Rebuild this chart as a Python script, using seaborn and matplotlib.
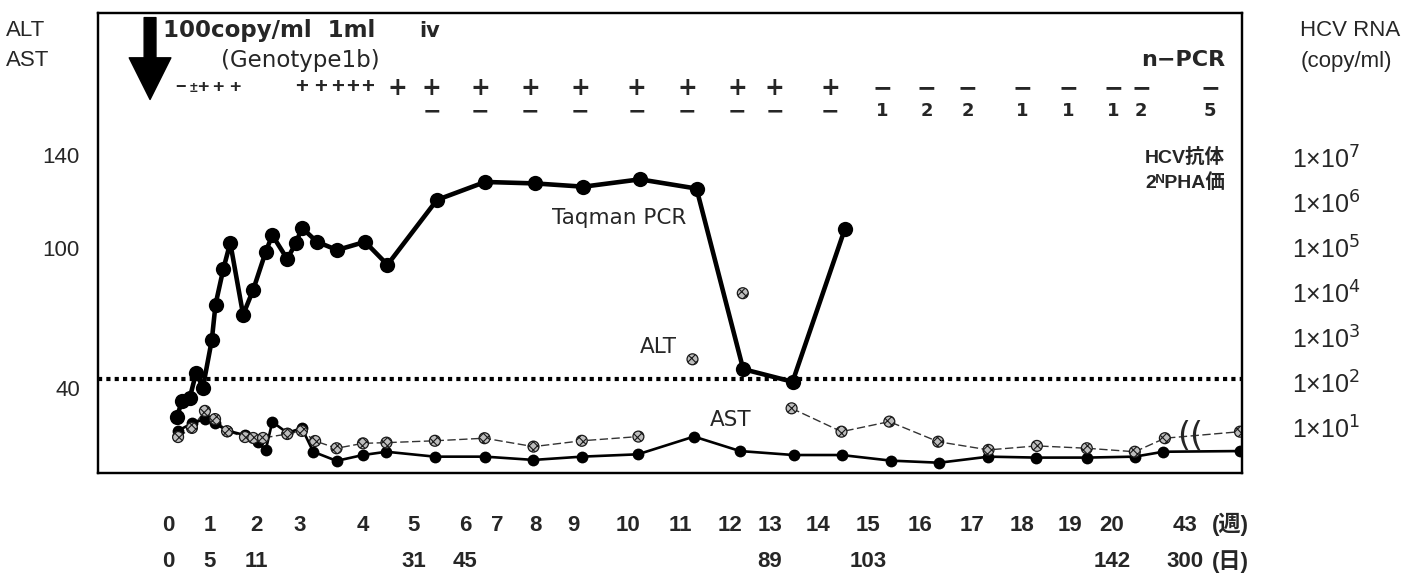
import numpy as np
import pandas as pd
import matplotlib
matplotlib.use("Agg")
import matplotlib.pyplot as plt
from matplotlib.transforms import ScaledTranslation, blended_transform_factory
import seaborn as sns

# ---------------- time axis (weeks after inoculation) ----------------
week_ticks = [0, 1, 2, 3, 4, 5, 6, 7, 8, 9, 10, 11, 12, 13, 14, 15, 16, 17, 18, 19, 20, 43]
week_labels = [str(w) for w in week_ticks]
# relative spacing of the hand-drawn (non-uniform) time axis
week_axis_spacing = [168, 210, 256, 300, 363, 414, 465, 497, 535, 573, 628, 680, 730,
                     770, 818, 868, 920, 972, 1022, 1070, 1112, 1240]
day_labels = ["0", "5", "11", "31", "45", "89", "103", "142", "300"]
day_label_weeks = [0, 1, 2, 5, 6, 13, 15, 20, 43]

# ---------------- HCV RNA, Taqman PCR (copy/ml) ----------------
taqman_weeks = [0.21, 0.33, 0.52, 0.67, 0.83, 1.04, 1.12, 1.29, 1.44, 1.72, 1.94, 2.22,
                2.37, 2.71, 2.91, 3.03, 3.27, 3.59, 4.04, 4.48, 5.45, 6.63, 8.0, 9.19,
                10.23, 11.33, 12.33, 13.47, 14.54]
taqman_copies = [17, 39, 47, 166, 78, 890, 5400, 33000, 126000, 3200, 11500, 79000,
                 186000, 55000, 126000, 270000, 132000, 87000, 132000, 41000, 1.12e6,
                 2.8e6, 2.6e6, 2.2e6, 3.2e6, 2.0e6, 200, 105, 2.6e5]

# ---------------- ALT (IU/l) ----------------
alt_weeks = [0.24, 0.57, 0.88, 1.11, 1.37, 1.76, 1.94, 2.16, 2.71, 3.03, 3.24, 3.58,
             4.0, 4.46, 5.41, 6.61, 7.96, 9.16, 10.2, 11.25, 12.32, 13.45, 14.47, 15.41,
             16.35, 17.33, 18.31, 19.4, 24.1, 29.5, 43]
alt_values = [19.2, 23.1, 30.4, 26.9, 21.7, 19.2, 18.8, 18.8, 20.5, 21.8, 17.5, 14.4,
              16.5, 16.8, 17.6, 18.7, 15.1, 17.6, 19.4, 52.5, 80.8, 31.5, 21.5, 25.8,
              17.2, 13.7, 15.4, 14.4, 12.9, 18.7, 21.5]
alt_segment = [0] * 19 + [1] + [2] + [3] * 10

# ---------------- AST (IU/l) ----------------
ast_weeks = [0.24, 0.57, 0.88, 1.11, 1.37, 1.76, 2.05, 2.22, 2.37, 2.71, 3.03, 3.21,
             3.58, 4.0, 4.46, 5.41, 6.63, 7.96, 9.16, 10.19, 11.28, 12.25, 13.49, 14.47,
             15.44, 16.37, 17.33, 18.30, 19.40, 24.1, 29.2, 43]
ast_values = [22, 25, 27, 25, 22, 20, 17, 13.5, 25.7, 21, 23, 12.9, 9.0, 11.5, 12.9,
              10.8, 10.8, 9.4, 10.8, 11.8, 19.4, 13.2, 11.5, 11.5, 9.1, 8.2, 10.8, 10.4,
              10.4, 10.8, 12.9, 13.2]

# ---------------- n-PCR and HCV antibody (2^N PHA) ----------------
npcr_weeks = [0.29, 0.6, 0.83, 1.17, 1.54, 3.03, 3.32, 3.59, 3.84, 4.08, 4.67, 5.35,
              6.47, 7.87, 9.13, 10.17, 11.14, 12.18, 13.10, 14.24, 15.27, 16.13, 16.92,
              18.0, 18.96, 20.18, 25.2, 37.6]
npcr_result = ["−", "±", "+", "+", "+", "+", "+", "+", "+", "+", "+", "+", "+", "+",
               "+", "+", "+", "+", "+", "+", "−", "−", "−", "−", "−", "−", "−", "−"]
antibody_weeks = [5.35, 6.47, 7.87, 9.13, 10.17, 11.14, 12.18, 13.10, 14.24, 15.27,
                  16.13, 16.92, 18.0, 18.96, 20.18, 25.2, 37.6]
antibody_result = ["−"] * 9 + ["1", "2", "2", "1", "1", "1", "2", "5"]

rna_ticks = [1e1, 1e2, 1e3, 1e4, 1e5, 1e6, 1e7]
enzyme_ticks = [40, 100, 140]
limit_line_copies = 120

# ---------------- style ----------------
sns.set_style("white")
plt.rcParams["font.family"] = ["Liberation Sans", "Noto Sans CJK JP", "DejaVu Sans"]
plt.rcParams["mathtext.fontset"] = "dejavusans"
plt.rcParams["axes.linewidth"] = 1.6
plt.rcParams["hatch.linewidth"] = 0.8
WIDE = ["DejaVu Sans", "Noto Sans CJK JP"]

kw = np.array(week_ticks, float)
kp = np.array(week_axis_spacing, float)


def fwd(w):
    w = np.asarray(w, float)
    out = np.interp(w, kw, kp)
    out = np.where(w < kw[0], kp[0] + (w - kw[0]) * (kp[1] - kp[0]) / (kw[1] - kw[0]), out)
    out = np.where(w > kw[-1], kp[-1] + (w - kw[-1]) * (kp[-1] - kp[-2]) / (kw[-1] - kw[-2]), out)
    return out


def inv(p):
    p = np.asarray(p, float)
    out = np.interp(p, kp, kw)
    out = np.where(p < kp[0], kw[0] + (p - kp[0]) * (kw[1] - kw[0]) / (kp[1] - kp[0]), out)
    out = np.where(p > kp[-1], kw[-1] + (p - kp[-1]) * (kw[-1] - kw[-2]) / (kp[-1] - kp[-2]), out)
    return out


fig = plt.figure(figsize=(14.01, 5.79), dpi=100)
ax = fig.add_axes([98 / 1401, 1 - 473 / 579, (1242 - 98) / 1401, (473 - 13) / 579])
ax.set_xscale("function", functions=(fwd, inv))
ax.set_xlim(float(inv(98)), float(inv(1242)))
ax.set_ylim(3.8, 200.8)

ax2 = ax.twinx()
ax2.set_yscale("log")
ax2.set_ylim(1, 10 ** 10.19)

# detection limit dotted line
ax2.axhline(limit_line_copies, color="black", lw=3.0, ls=(0, (1, 1)), zorder=1)

alt_df = pd.DataFrame({"week": alt_weeks, "value": alt_values, "seg": alt_segment})
ast_df = pd.DataFrame({"week": ast_weeks, "value": ast_values})
taq_df = pd.DataFrame({"week": taqman_weeks, "copies": taqman_copies})

sns.lineplot(data=alt_df, x="week", y="value", units="seg", estimator=None, sort=False,
             ax=ax, color="#333333", lw=1.0, linestyle=(0, (6, 2.5)), zorder=2)
sns.lineplot(data=ast_df, x="week", y="value", estimator=None, sort=False, ax=ax,
             color="black", lw=1.9, marker="o", markersize=8.5, markeredgewidth=0,
             zorder=3)
sns.scatterplot(data=alt_df, x="week", y="value", ax=ax, marker="o", s=62,
                color="#bdbdbd", edgecolor="#1a1a1a", linewidth=0.9, hatch="xxxx",
                zorder=4)
sns.lineplot(data=taq_df, x="week", y="copies", estimator=None, sort=False, ax=ax2,
             color="black", lw=3.3, marker="o", markersize=11, markeredgewidth=0,
             zorder=5)

# ---------------- axes cosmetics ----------------
for a in (ax, ax2):
    a.set_xlabel("")
    a.set_ylabel("")
    for s in a.spines.values():
        s.set_color("black")
        s.set_visible(True)

ax.set_yticks(enzyme_ticks, [str(v) for v in enzyme_ticks])
ax.tick_params(axis="y", length=0, pad=13, labelsize=16)
ax2.set_yticks(rna_ticks, ["1×10$^{%d}$" % int(np.log10(t)) for t in rna_ticks])
ax2.minorticks_off()
ax2.tick_params(axis="y", length=0, pad=36, labelsize=18)

ax.set_xticks(week_ticks, week_labels)
ax.tick_params(axis="x", length=0, pad=30, labelsize=16)
shift = ScaledTranslation(-55 / 100, 0, fig.dpi_scale_trans)
for lbl, w in zip(ax.get_xticklabels(), week_ticks):
    lbl.set_fontweight("bold")
    if w == 43:
        lbl.set_transform(lbl.get_transform() + shift)

bt = blended_transform_factory(ax.transData, ax.transAxes)
for w, d in zip(day_label_weeks, day_labels):
    tr = bt + shift if w == 43 else bt
    ax.text(w, -0.193, d, transform=tr, ha="center", va="center", fontsize=16,
            fontweight="bold", clip_on=False)
ax.text(0.99, -0.111, "(週)", transform=ax.transAxes, ha="center", va="center",
        fontsize=16, fontweight="bold", clip_on=False)
ax.text(0.99, -0.193, "(日)", transform=ax.transAxes, ha="center", va="center",
        fontsize=16, fontweight="bold", clip_on=False)

# n-PCR / antibody rows
for w, r in zip(npcr_weeks, npcr_result):
    if w < 0.7:
        ax.text(w, 0.837, r, transform=bt, ha="center", va="center",
                fontsize=10 if r == "±" else 13, fontweight="bold")
    elif w < 2.0:
        ax.text(w, 0.837, r, transform=bt, ha="center", va="center", fontsize=14,
                fontweight="bold")
    elif w < 4.2:
        ax.text(w, 0.837, r, transform=bt, ha="center", va="center", fontsize=16,
                fontweight="bold")
    else:
        ax.text(w, 0.837, r, transform=bt, ha="center", va="center", fontsize=17,
                fontweight="bold", family=WIDE)
for w, r in zip(antibody_weeks, antibody_result):
    ax.text(w, 0.787, r, transform=bt, ha="center", va="center",
            fontsize=16 if r == "−" else 13, fontweight="bold", family=WIDE)

# inoculation arrow and annotations
ax.annotate("", xy=(0.0455, 0.812), xytext=(0.0455, 0.99), xycoords="axes fraction",
            arrowprops=dict(facecolor="black", edgecolor="black", width=8.5,
                            headwidth=30, headlength=30, shrink=0))
ax.text(0.057, 0.961, "100copy/ml  1ml", transform=ax.transAxes, ha="left",
        va="center", fontsize=16.5, fontweight="bold", family=WIDE)
ax.text(0.29, 0.961, "iv", transform=ax.transAxes, ha="center", va="center",
        fontsize=15, fontweight="bold", family=WIDE)
ax.text(0.177, 0.897, "(Genotype1b)", transform=ax.transAxes, ha="center",
        va="center", fontsize=16.5, family=WIDE)
ax.text(0.985, 0.897, "n−PCR", transform=ax.transAxes, ha="right", va="center",
        fontsize=16, fontweight="bold", family=WIDE)
ax.text(0.985, 0.685, "HCV抗体", transform=ax.transAxes, ha="right", va="center",
        fontsize=14, fontweight="bold")
ax.text(0.985, 0.632, "2ᴺPHA価", transform=ax.transAxes, ha="right", va="center",
        fontsize=14, fontweight="bold")
ax.text(0.456, 0.554, "Taqman PCR", transform=ax.transAxes, ha="center",
        va="center", fontsize=15.5, family=WIDE)
ax.text(0.490, 0.274, "ALT", transform=ax.transAxes, ha="center", va="center",
        fontsize=15.5, family=WIDE)
ax.text(0.553, 0.115, "AST", transform=ax.transAxes, ha="center", va="center",
        fontsize=15.5, family=WIDE)
ax.text(34.0, 0.08, "((", transform=bt, ha="center", va="center", fontsize=24,
        family=WIDE)

fig.text(0.004, 0.948, "ALT", ha="left", va="center", fontsize=16)
fig.text(0.004, 0.895, "AST", ha="left", va="center", fontsize=16)
fig.text(0.928, 0.948, "HCV RNA", ha="left", va="center", fontsize=16)
fig.text(0.928, 0.893, "(copy/ml)", ha="left", va="center", fontsize=16)

fig.savefig("out.png", dpi=100, facecolor="white")
